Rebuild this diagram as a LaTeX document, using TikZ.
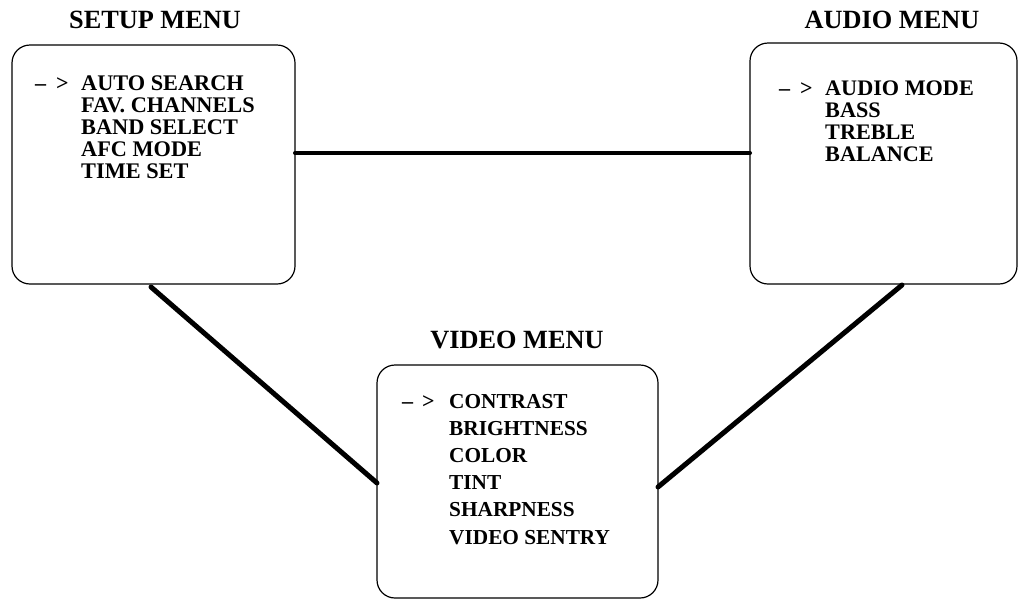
\documentclass[tikz,border=0pt]{standalone}
\usepackage{fontspec}
\setmainfont{Liberation Serif}
\begin{document}
\begin{tikzpicture}[x=1pt,y=-1pt,
  menubox/.style={draw=black, line width=1.2pt, rounded corners=18pt, inner sep=0pt, outer sep=0pt, anchor=north west},
  menutitle/.style={font=\fontsize{26.3}{28}\selectfont\bfseries, inner sep=0pt, anchor=base},
  pointer/.style={font=\fontsize{22}{22}\selectfont\bfseries, inner sep=0pt, anchor=base west},
  items/.style n args={2}{font=\fontsize{#1}{#2}\selectfont\bfseries, inner sep=0pt, anchor=base west},
  link/.style={draw=black, line width=#1, line cap=round}
]
\useasboundingbox (0,0) rectangle (1019,600);

% boxes
\node[menubox, minimum width=283pt, minimum height=239pt] (setup) at (12,45) {};
\node[menubox, minimum width=267pt, minimum height=241pt] (audio) at (750,43) {};
\node[menubox, minimum width=281pt, minimum height=233pt] (video) at (377,365) {};

% titles
\node[menutitle] (setuptitle) at (155,28) {SETUP MENU};
\node[menutitle] (audiotitle) at (892,28) {AUDIO MENU};
\node[menutitle] (videotitle) at (517,348) {VIDEO MENU};

% setup items
\node[pointer] (setupptr) at (35,90) {–\hspace{10pt}>};
\node[items={22.3}{22}] (setupitems) at (81,90) {\begin{tabular}[t]{@{}l@{}}AUTO SEARCH\\FAV. CHANNELS\\BAND SELECT\\AFC MODE\\TIME SET\end{tabular}};

% audio items
\node[pointer] (audioptr) at (779,95) {–\hspace{10pt}>};
\node[items={22.2}{22.3}] (audioitems) at (825,95) {\begin{tabular}[t]{@{}l@{}}AUDIO MODE\\BASS\\TREBLE\\BALANCE\end{tabular}};

% video items
\node[pointer] (videoptr) at (402,408) {–\hspace{9pt}>};
\node[items={21.3}{27.2}] (videoitems) at (449,408) {\begin{tabular}[t]{@{}l@{}}CONTRAST\\BRIGHTNESS\\COLOR\\TINT\\SHARPNESS\\VIDEO SENTRY\end{tabular}};

% connectors
\draw[link=4pt] ([yshift=11.5pt]setup.east) -- ([yshift=11.5pt]setup.east -| audio.west);
\draw[link=5pt] ([xshift=139pt,yshift=-3pt]setup.south west) -- ([yshift=-1.5pt]video.west);
\draw[link=5pt] ([xshift=152pt,yshift=-1pt]audio.south west) -- ([yshift=-5.5pt]video.east);
\end{tikzpicture}
\end{document}
